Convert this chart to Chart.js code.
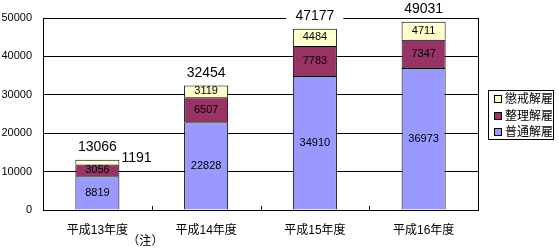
<!DOCTYPE html>
<html><head><meta charset="utf-8">
<script src="https://cdn.jsdelivr.net/npm/chart.js@4/dist/chart.umd.min.js"></script>
<style>html,body{margin:0;padding:0;background:#fff;}#wrap{width:559px;height:249px;position:relative;}</style>
</head><body><div id="wrap"><canvas id="c" width="559" height="249"></canvas></div>
<script>
const categories = ['平成13年度','平成14年度','平成15年度','平成16年度'];
const futsuKaiko = [8819, 22828, 34910, 36973];   // 普通解雇
const seiriKaiko = [3056, 6507, 7783, 7347];      // 整理解雇
const choukaiKaiko = [1191, 3119, 4484, 4711];    // 懲戒解雇
const totals = [13066, 32454, 47177, 49031];
const seriesNames = ['普通解雇','整理解雇','懲戒解雇'];
const noteText = '（注）';

const FONT = "'Liberation Sans', 'Noto Sans CJK JP', sans-serif";

const labelPlugin = {
  id: 'labels',
  afterDatasetsDraw(chart) {
    const ctx = chart.ctx;
    const ys = chart.scales.y, xs = chart.scales.x, ca = chart.chartArea;
    ctx.save();
    ctx.strokeStyle = '#000'; ctx.lineWidth = 1;
    ctx.beginPath(); ctx.moveTo(Math.round(ca.right)+0.5, ca.top); ctx.lineTo(Math.round(ca.right)+0.5, ca.bottom); ctx.stroke();
    for (let i = 0; i < categories.length - 1; i++) {
      const bx = Math.round((xs.getPixelForValue(i) + xs.getPixelForValue(i+1)) / 2) + 0.5;
      ctx.beginPath(); ctx.moveTo(bx, ca.bottom); ctx.lineTo(bx, ca.bottom - 4); ctx.stroke();
    }
    ctx.font = '14px ' + FONT;
    ctx.textAlign = 'center';
    ctx.textBaseline = 'middle';
    totals.forEach((t, j) => {
      const x = xs.getPixelForValue(j);
      const y = ys.getPixelForValue(t) - 12.5;
      const w = ctx.measureText(String(t)).width + 18;
      ctx.fillStyle = '#fff';
      ctx.fillRect(x - w / 2, y - 7, w, 14);
      ctx.fillStyle = '#000';
      ctx.fillText(String(t), x, y);
    });
    chart.data.datasets.forEach((ds, di) => {
      const meta = chart.getDatasetMeta(di);
      meta.data.forEach((bar, j) => {
        const v = ds.data[j];
        const h = Math.abs(bar.base - bar.y);
        const cy = (bar.y + bar.base) / 2;
        ctx.fillStyle = '#000';
        ctx.textBaseline = 'middle';
        if (h < 10) {
          ctx.font = '14px ' + FONT;
          ctx.textAlign = 'left';
          ctx.fillText(String(v), bar.x + bar.width / 2 + 2, cy - 4);
        } else {
          ctx.font = '11px ' + FONT;
          ctx.textAlign = 'center';
          ctx.fillText(String(v), bar.x, cy);
        }
      });
    });
    ctx.font = '12px ' + FONT;
    ctx.textAlign = 'center';
    ctx.fillText(noteText, xs.getPixelForValue(0) + 48, 242);
    ctx.strokeStyle = '#000';
    ctx.fillStyle = '#fff';
    ctx.fillRect(488.5, 90.5, 65, 49);
    ctx.strokeRect(488.5, 90.5, 65, 49);
    const order = [2, 1, 0];
    const rowY = [99, 115.5, 132];
    ctx.font = '12px ' + FONT;
    ctx.textAlign = 'left';
    order.forEach((di, k) => {
      const ds = chart.data.datasets[di];
      const y = rowY[k];
      ctx.fillStyle = ds.backgroundColor;
      ctx.fillRect(494.5, Math.round(y) - 3.5, 7, 7);
      ctx.strokeRect(494.5, Math.round(y) - 3.5, 7, 7);
      ctx.fillStyle = '#000';
      ctx.fillText(ds.label, 505, y + 1);
    });
    ctx.restore();
  }
};

const common = { borderColor: '#000', borderWidth: 1, borderSkipped: 'start', categoryPercentage: 1.0, barPercentage: 0.405 };

new Chart(document.getElementById('c'), {
  type: 'bar',
  data: {
    labels: categories,
    datasets: [
      Object.assign({ label: seriesNames[0], data: futsuKaiko, backgroundColor: '#9999FF' }, common),
      Object.assign({ label: seriesNames[1], data: seiriKaiko, backgroundColor: '#993366' }, common),
      Object.assign({ label: seriesNames[2], data: choukaiKaiko, backgroundColor: '#FFFFCC' }, common)
    ]
  },
  options: {
    responsive: false,
    animation: false,
    devicePixelRatio: 1,
    layout: { padding: { top: 18, right: 81, left: 0, bottom: 0 } },
    plugins: { legend: { display: false }, tooltip: { enabled: false } },
    scales: {
      x: {
        stacked: true,
        grid: { display: false, drawTicks: false },
        border: { color: '#000', width: 1 },
        ticks: { color: '#000', font: { family: FONT, size: 12 }, padding: 13, maxRotation: 0, autoSkip: false },
        afterFit(s) { s.height = 39; }
      },
      y: {
        stacked: true,
        min: 0, max: 50000,
        grid: { color: '#000', lineWidth: 1, drawTicks: false },
        border: { color: '#000', width: 1 },
        ticks: { stepSize: 10000, color: '#000', font: { family: FONT, size: 11 }, padding: 11, callback: v => String(v) },
        afterFit(s) { s.width = 43; }
      }
    }
  },
  plugins: [labelPlugin]
});
</script>
</body></html>
